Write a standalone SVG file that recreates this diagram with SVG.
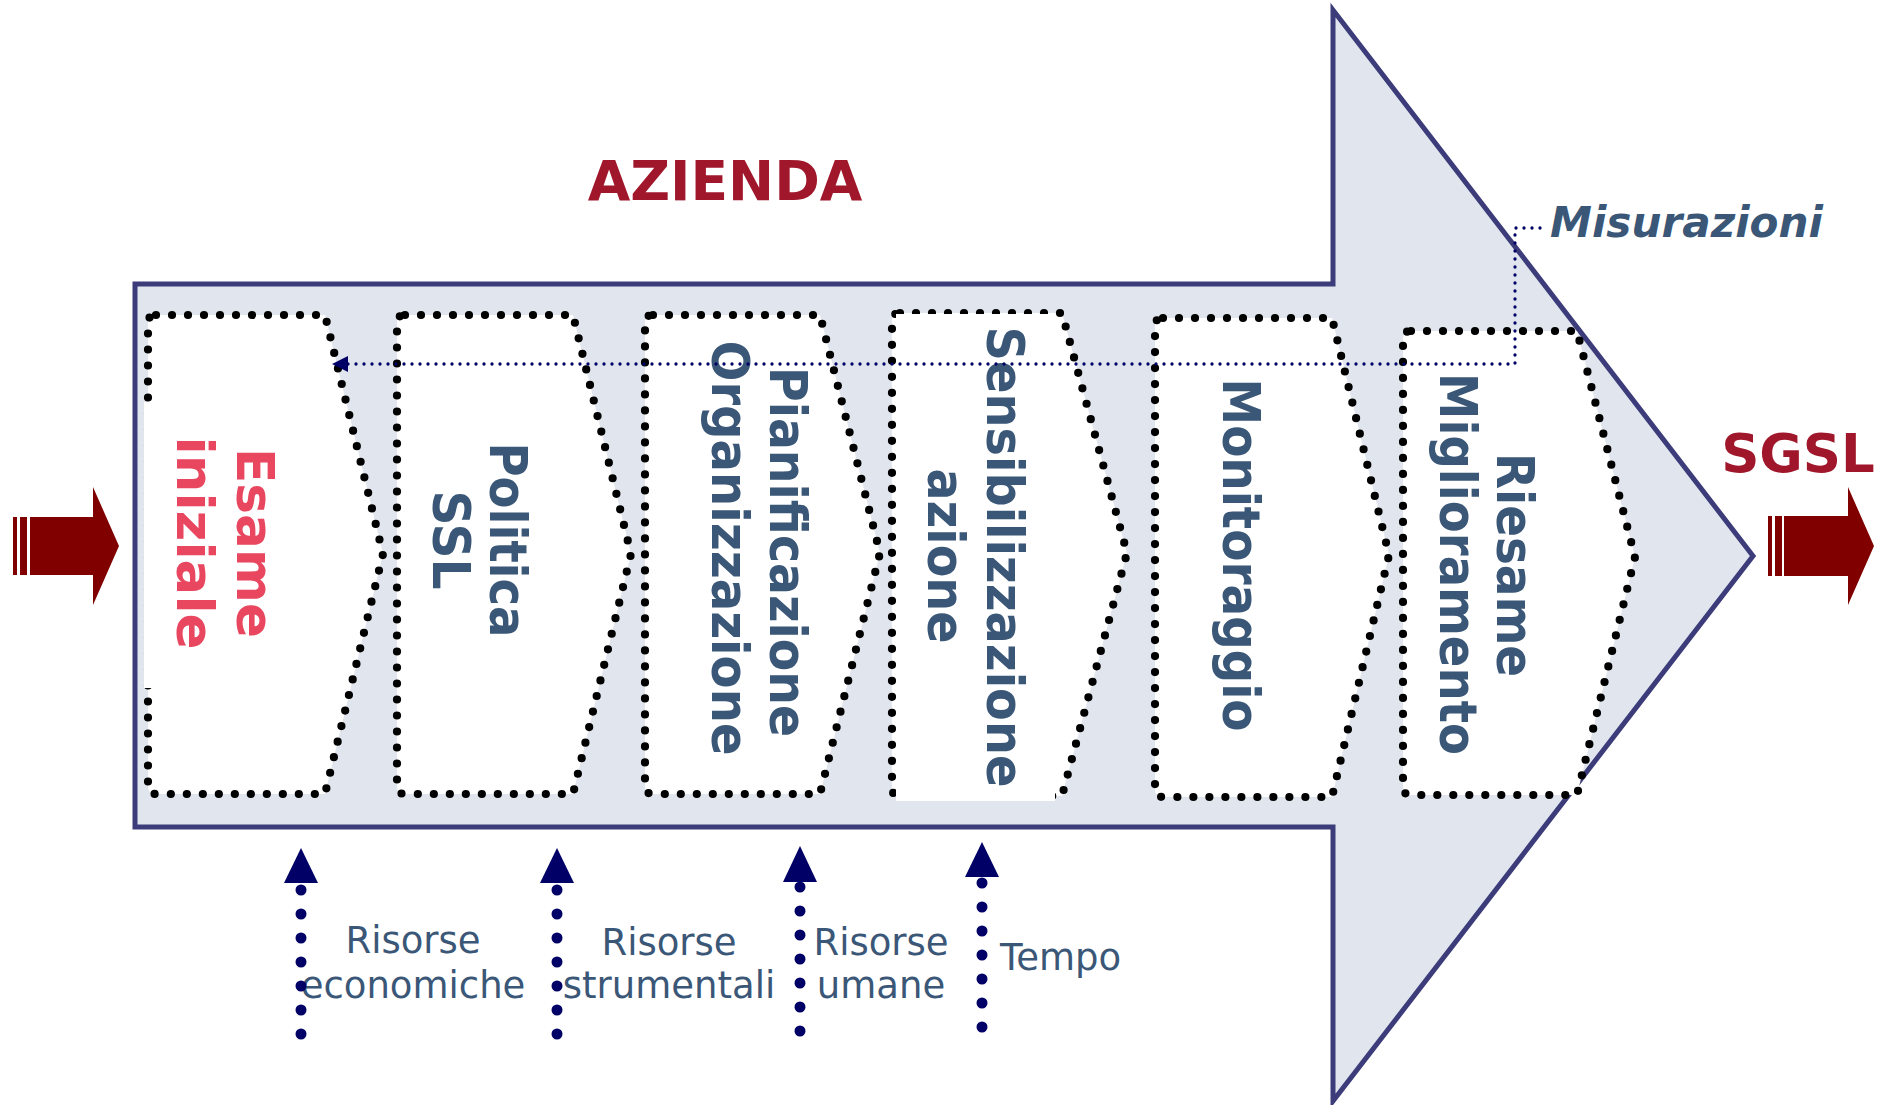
<svg xmlns="http://www.w3.org/2000/svg" width="1887" height="1105" viewBox="0 0 1887 1105">
<style>
.box{fill:#ffffff;stroke:#000000;stroke-width:8.2;stroke-dasharray:0 16;stroke-linecap:round;stroke-linejoin:round}
.vt{font-family:"DejaVu Sans","Liberation Sans",sans-serif;font-weight:bold;font-size:52px;fill:#3b5777;text-anchor:middle}
.pink{fill:#e8475f}
.lbl{font-family:"DejaVu Sans","Liberation Sans",sans-serif;font-size:37px;fill:#3b5777}
.title{font-family:"DejaVu Sans","Liberation Sans",sans-serif;font-weight:bold;fill:#a0172c}
.red{fill:#800000}
.res{stroke:#000066;stroke-width:11;stroke-dasharray:0 24;stroke-linecap:round;fill:none}
.head{fill:#000066}
</style>
<g id="azienda-arrow">
<polygon points="135,284 1333,284 1333,10 1753,556 1333,1101 1333,827 135,827" fill="#e1e6ee" stroke="#3c3c7a" stroke-width="5"/>
</g>
<text class="title" x="725" y="200" font-size="55" text-anchor="middle">AZIENDA</text>
<text class="title" x="1798" y="472" font-size="53" text-anchor="middle">SGSL</text>
<g id="input-arrow">
<rect class="red" x="13" y="517" width="4" height="58"/>
<rect class="red" x="20" y="517" width="7" height="58"/>
<polygon class="red" points="30,517 93,517 93,487 119,546 93,605 93,575 30,575"/>
</g>
<g id="output-arrow">
<rect class="red" x="1768" y="516" width="4" height="60"/>
<rect class="red" x="1775" y="516" width="7" height="60"/>
<polygon class="red" points="1784,516 1848,516 1848,487 1874,546 1848,605 1848,576 1784,576"/>
</g>
<g id="esame">
<path class="box" d="M156,315 L325,315 L383,554 L325,794 L156,794 Q148,794 148,786 L148,323 Q148,315 156,315 Z"/>
<rect x="144" y="402" width="150" height="286" fill="#ffffff"/>
<text class="vt pink" transform="translate(237,543) rotate(90)" textLength="190" lengthAdjust="spacingAndGlyphs">Esame</text>
<text class="vt pink" transform="translate(177,543) rotate(90)" textLength="213" lengthAdjust="spacingAndGlyphs">iniziale</text>
</g>
<g id="politica">
<path class="box" d="M405,315 L573,315 L631,554 L573,794 L405,794 Q397,794 397,786 L397,323 Q397,315 405,315 Z"/>
<text class="vt" transform="translate(490,540) rotate(90)" textLength="195" lengthAdjust="spacingAndGlyphs">Politica</text>
<text class="vt" transform="translate(433,540) rotate(90)" textLength="99" lengthAdjust="spacingAndGlyphs">SSL</text>
</g>
<g id="pianificazione">
<path class="box" d="M653,315 L820,315 L880,553 L820,794 L653,794 Q645,794 645,786 L645,323 Q645,315 653,315 Z"/>
<text class="vt" transform="translate(770,552) rotate(90)" textLength="370" lengthAdjust="spacingAndGlyphs">Pianificazione</text>
<text class="vt" transform="translate(712,548) rotate(90)" textLength="415" lengthAdjust="spacingAndGlyphs">Organizzazione</text>
</g>
<g id="sensibilizzazione">
<path class="box" d="M900,313 L1062,313 L1127,553 L1062,796 L900,796 Q892,796 892,788 L892,321 Q892,313 900,313 Z"/>
<rect x="896" y="314" width="159" height="487" fill="#ffffff"/>
<text class="vt" transform="translate(987,557) rotate(90)" textLength="461" lengthAdjust="spacingAndGlyphs">Sensibilizzazione</text>
<text class="vt" transform="translate(928,556) rotate(90)" textLength="175" lengthAdjust="spacingAndGlyphs">azione</text>
</g>
<g id="monitoraggio">
<path class="box" d="M1163,318 L1332,318 L1389,555 L1332,797 L1163,797 Q1155,797 1155,789 L1155,326 Q1155,318 1163,318 Z"/>
<text class="vt" transform="translate(1223,555) rotate(90)" textLength="353" lengthAdjust="spacingAndGlyphs">Monitoraggio</text>
</g>
<g id="riesame">
<path class="box" d="M1411,331 L1577,331 L1635,557 L1577,795 L1411,795 Q1403,795 1403,787 L1403,339 Q1403,331 1411,331 Z"/>
<text class="vt" transform="translate(1497,565) rotate(90)" textLength="224" lengthAdjust="spacingAndGlyphs">Riesame</text>
<text class="vt" transform="translate(1440,564) rotate(90)" textLength="382" lengthAdjust="spacingAndGlyphs">Miglioramento</text>
</g>
<g id="misurazioni">
<text x="1550" y="237" font-family="DejaVu Sans, Liberation Sans, sans-serif" font-weight="bold" font-style="italic" font-size="43" fill="#3b5777" textLength="273" lengthAdjust="spacingAndGlyphs">Misurazioni</text>
</g>
<g id="risorse-economiche"><text class="lbl" text-anchor="middle"><tspan x="413" y="953">Risorse</tspan><tspan x="413" y="998">economiche</tspan></text></g>
<g id="risorse-strumentali"><text class="lbl" text-anchor="middle"><tspan x="669" y="955">Risorse</tspan><tspan x="669" y="998">strumentali</tspan></text></g>
<g id="risorse-umane"><text class="lbl" text-anchor="middle"><tspan x="881" y="955">Risorse</tspan><tspan x="881" y="998">umane</tspan></text></g>
<g id="tempo"><text class="lbl" x="1000" y="970">Tempo</text></g>
<g id="connectors">
<path d="M1540,228 L1515,228 L1515,364 L345,364" fill="none" stroke="#000066" stroke-width="3.3" stroke-dasharray="0 8" stroke-linecap="round"/>
<polygon points="332,364 348,356 348,372" fill="#000066"/>
<line class="res" x1="301" y1="890" x2="301" y2="1037"/>
<polygon class="head" points="301,848 318,883 284,883"/>
<line class="res" x1="557" y1="890" x2="557" y2="1037"/>
<polygon class="head" points="557,848 574,883 540,883"/>
<line class="res" x1="800" y1="887" x2="800" y2="1034"/>
<polygon class="head" points="800,846 817,882 783,882"/>
<line class="res" x1="982" y1="883" x2="982" y2="1030"/>
<polygon class="head" points="982,842 999,877 965,877"/>
</g>
</svg>
